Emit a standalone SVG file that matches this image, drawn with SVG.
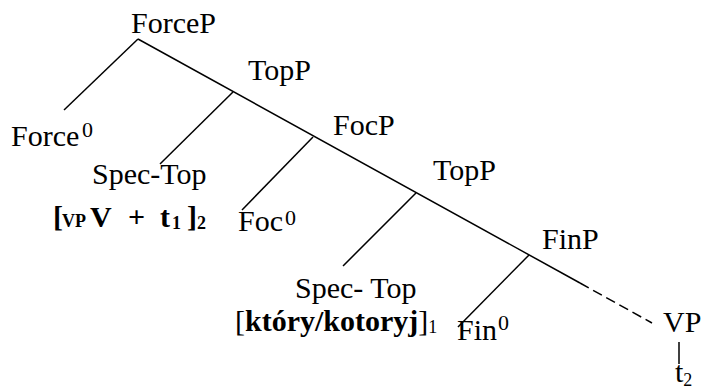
<svg xmlns="http://www.w3.org/2000/svg" width="704" height="391" viewBox="0 0 704 391">
<style>
text{font-family:'Liberation Serif','Times New Roman',Times,'Nimbus Roman','Nimbus Roman No9 L',Tinos,'Noto Serif','DejaVu Serif',serif;font-size:30px;fill:#000}
.s{font-size:22px}
.b{font-weight:bold}
.sm{font-size:18px}
.e{stroke:#000;stroke-width:1.5;fill:none}
</style>
<rect width="704" height="391" fill="#fff"/>
<g id="connectors">
<line class="e" x1="138" y1="39" x2="580" y2="283"/>
<line class="e" x1="580" y1="283" x2="652" y2="323" stroke-dasharray="10,5"/>
<line class="e" x1="138" y1="39" x2="64" y2="110"/>
<line class="e" x1="233" y1="92" x2="160" y2="164"/>
<line class="e" x1="313" y1="137" x2="242" y2="210"/>
<line class="e" x1="416" y1="193" x2="343" y2="266"/>
<line class="e" x1="529" y1="255" x2="458" y2="327"/>
<line class="e" x1="679" y1="342" x2="679" y2="364"/>
</g>
<g id="ForceP"><text x="131" y="33">ForceP</text></g>
<g id="Force0"><text x="11" y="146">Force<tspan class="s" x="82" y="137">0</tspan></text></g>
<g id="TopP1"><text x="248" y="80">TopP</text></g>
<g id="SpecTop1"><text x="92" y="184">Spec-Top</text>
<text class="b"><tspan x="53" y="227">[</tspan><tspan class="sm" x="62" y="227">VP</tspan><tspan x="90" y="227">V</tspan><tspan x="128" y="227">+</tspan><tspan x="160" y="227">t</tspan><tspan class="sm" x="172" y="229">1</tspan><tspan x="187" y="227">]</tspan><tspan class="sm" x="197" y="229">2</tspan></text></g>
<g id="FocP"><text x="333" y="135">FocP</text></g>
<g id="Foc0"><text x="238" y="231">Foc<tspan class="s" x="285" y="225">0</tspan></text></g>
<g id="TopP2"><text x="433" y="180">TopP</text></g>
<g id="SpecTop2"><text x="295" y="298">Spec- Top</text>
<text x="235" y="331">[<tspan class="b">który/kotoryj</tspan>]<tspan class="sm" y="333">1</tspan></text></g>
<g id="FinP"><text x="542" y="249">FinP</text></g>
<g id="Fin0"><text x="457" y="340">Fin<tspan class="s" x="498" y="330">0</tspan></text></g>
<g id="VP"><text x="663" y="332">VP</text>
<text x="675" y="382">t<tspan class="sm" y="386">2</tspan></text></g>
</svg>
